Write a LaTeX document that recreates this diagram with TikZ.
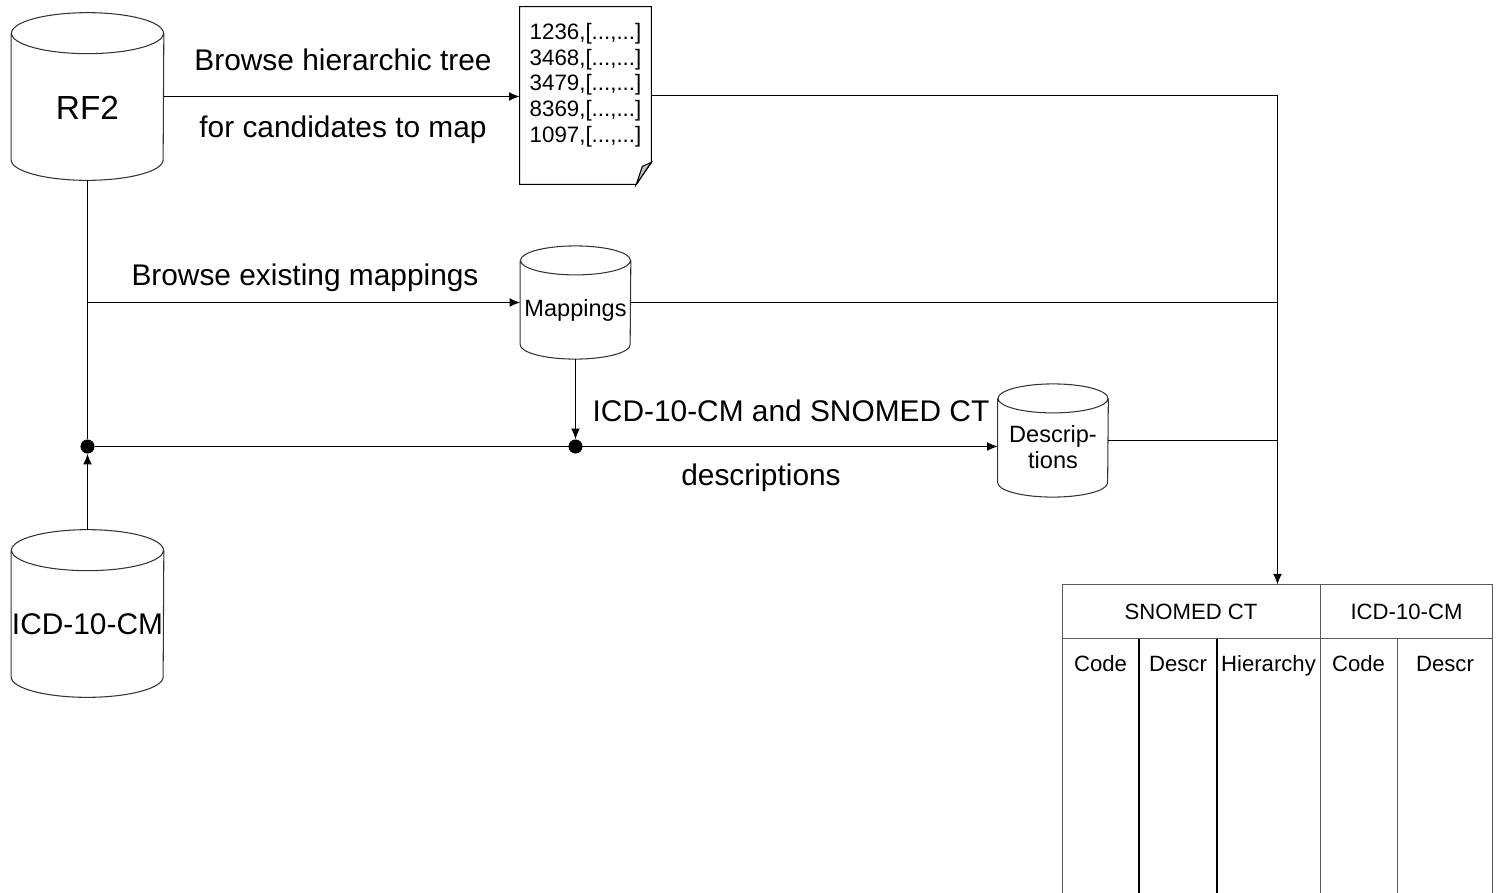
\documentclass[tikz,border=0pt]{standalone}
\usepackage{fontspec}
\setmainfont{Liberation Sans}
\usetikzlibrary{shapes.geometric, arrows.meta, positioning, calc}

\begin{document}
\begin{tikzpicture}[
  x=0.02cm, y=-0.02cm,
  db/.style      = {rectangle, inner sep=0pt},
  bigdb/.style   = {db, minimum width=3.04cm, minimum height=3.34cm},
  smalldb/.style = {db, minimum width=2.2cm, minimum height=2.25cm},
  dbtext/.style  = {align=center, inner sep=0pt, font=\fontsize{13.4}{14.5}\selectfont},
  dbline/.style  = {line width=0.6pt, draw=black!80},
  docbox/.style  = {rectangle, minimum width=2.62cm, minimum height=3.54cm,
                    align=left, inner xsep=0.18cm, inner ysep=0pt,
                    font=\fontsize{12.7}{14.6}\selectfont},
  lbl/.style     = {anchor=base, font=\fontsize{17}{20}\selectfont},
  hd/.style      = {anchor=base, font=\fontsize{12.6}{15}\selectfont},
  ln/.style      = {line width=0.6pt},
  arr/.style     = {ln, -{Latex[length=6pt,width=5pt]}},
  tabline/.style = {line width=0.6pt, draw=black!65},
  dot/.style     = {circle, fill=black, inner sep=0pt, minimum size=8pt}
]
\useasboundingbox (0,0) rectangle (1499,893);

% data sources
\node[bigdb, label={[dbtext, yshift=-0.23cm, font=\fontsize{19}{22}\selectfont]center:RF2}]
  (rf2) at (87.5,96.5) {};
\node[bigdb, label={[dbtext, yshift=-0.21cm, font=\fontsize{17}{20}\selectfont]center:ICD-10-CM}]
  (icd) at (87.5,613.5) {};
\node[smalldb, label={[dbtext, yshift=-0.16cm]center:Mappings}]
  (map) at (575.5,302.5) {};
\node[smalldb, label={[dbtext, yshift=-0.13cm]center:Descrip-\\tions}]
  (desc) at (1053,440.5) {};

\foreach \n/\rx/\ry in {rf2/1.52cm/0.41cm, icd/1.52cm/0.41cm,
                        map/1.1cm/0.29cm, desc/1.1cm/0.29cm}
  \draw[dbline] ([yshift=-\ry]\n.north west) -- ([yshift=\ry]\n.south west)
    arc[start angle=180, end angle=360, x radius=\rx, y radius=\ry]
    -- ([yshift=-\ry]\n.north east)
    ([yshift=-\ry]\n.north) ellipse[x radius=\rx, y radius=\ry];

% candidate list
\node[docbox]                (doc)  at (585.5,95.5)
  {1236,[...,...]\\3468,[...,...]\\3479,[...,...]\\8369,[...,...]\\1097,[...,...]\\ \mbox{}};
\draw[ln] (doc.north west) -- (doc.north east) -- ([yshift=0.44cm]doc.south east)
  -- ([xshift=-0.3cm]doc.south east) -- (doc.south west) -- cycle;
\filldraw[ln, fill=black!25] ([xshift=-0.3cm]doc.south east) -- ([yshift=0.44cm]doc.south east)
  -- ([xshift=-0.18cm, yshift=0.36cm]doc.south east) -- cycle;

% junctions
\node[dot] (j1) at (87.5,446.5) {};
\node[dot] (j2) at (map.south |- j1) {};
\coordinate (tab) at (1277.5,584.5);

% connectors
\draw[arr] (rf2.east) -- (rf2.east -| doc.west);
\draw[ln]  (rf2.south) -- (j1);
\draw[arr] (rf2.south |- map.west) -- (map.west);
\draw[arr] (icd.north) -- (j1);
\draw[arr] (map.south) -- (j2);
\draw[arr] (j1) -- (j1 -| desc.west);
\draw[arr] (doc.east) -| (tab);
\draw[ln]  (map.east) -- (map.east -| tab);
\draw[ln]  (desc.east) -- (desc.east -| tab);

% labels
\node[lbl] (lbltree) at (343,70)  {Browse hierarchic tree};
\node[lbl] (lblcand) at (343,137) {for candidates to map};
\node[lbl] (lblmap)  at (305,285) {Browse existing mappings};
\node[lbl] (lbldsc1) at (791,421) {ICD-10-CM and SNOMED CT};
\node[lbl] (lbldsc2) at (761,485) {descriptions};

% mapping table
\draw[tabline] (1062.5,893) -- (1062.5,584.5) -- (1492.5,584.5) -- (1492.5,893);
\draw[tabline] (1062.5,638.5) -- (1492.5,638.5);
\draw[tabline] (1320.5,584.5) -- (1320.5,893);
\draw[tabline] (1397.5,638.5) -- (1397.5,893);
\foreach \x in {1139,1217}
  \draw[line width=1.1pt] (\x,638.5) -- (\x,893);

\node[hd] (hsct) at (1191,619)   {SNOMED CT};
\node[hd] (hicd) at (1406.5,619) {ICD-10-CM};
\foreach \x/\t/\n in {1100.5/Code/c1, 1178/Descr/c2, 1268.5/Hierarchy/c3,
                      1358.5/Code/c4, 1445/Descr/c5}
  \node[hd] (\n) at (\x,671) {\t};
\end{tikzpicture}
\end{document}
